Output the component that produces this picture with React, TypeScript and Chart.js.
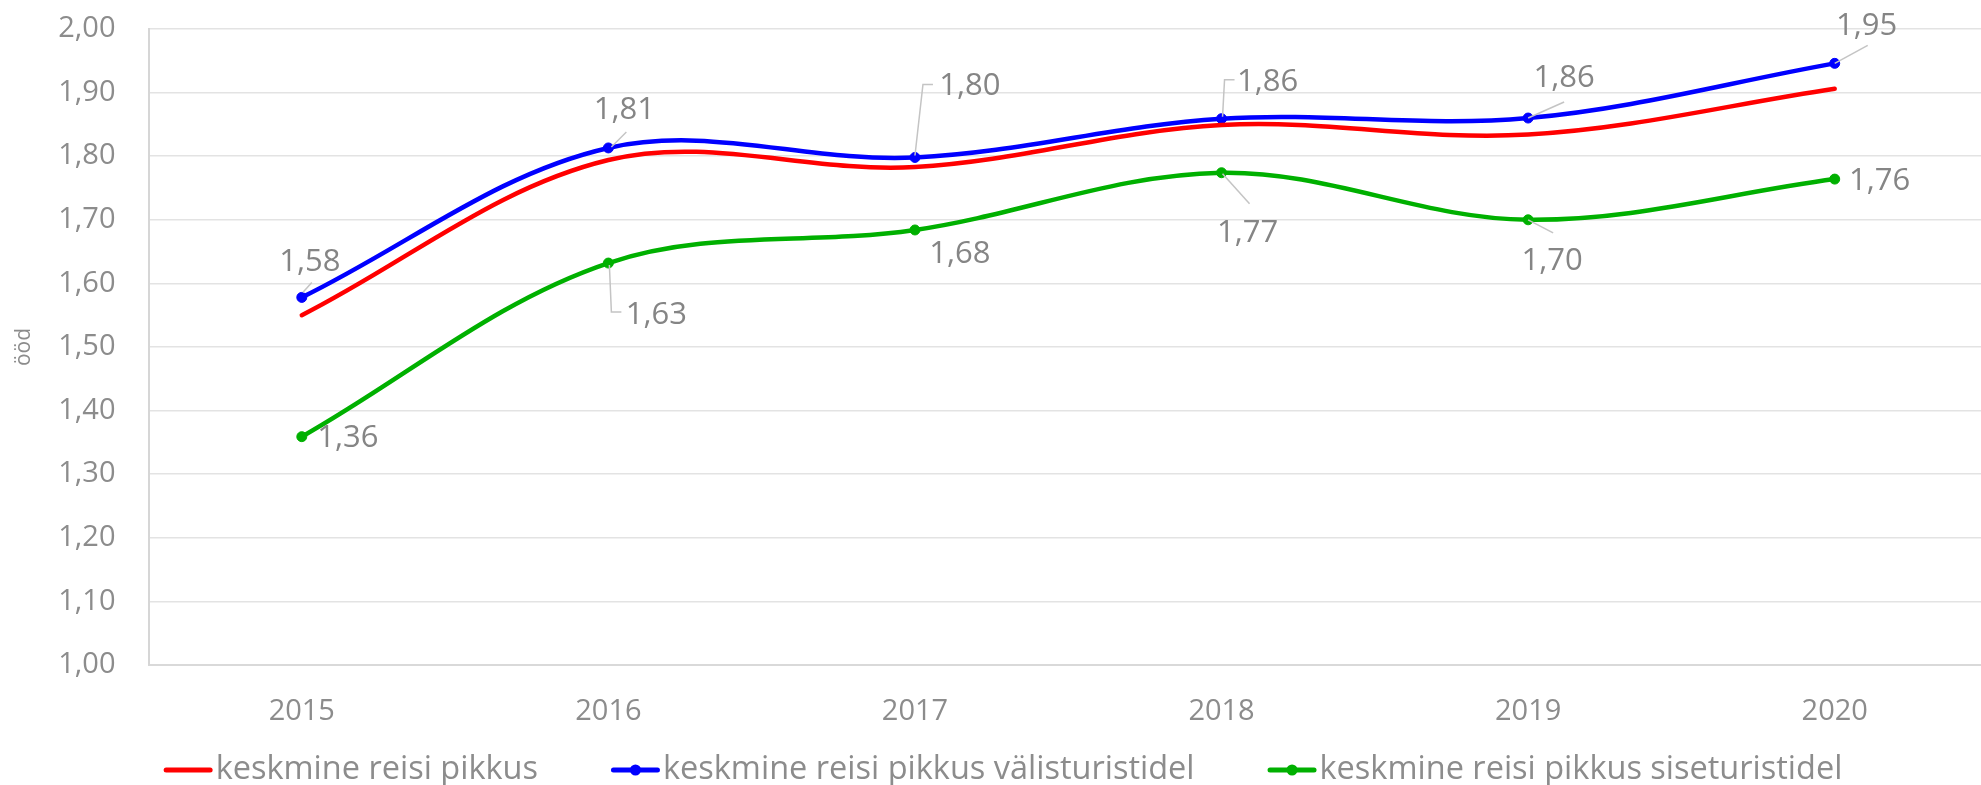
import React, { useEffect, useRef } from "react";
import { Chart, registerables } from "chart.js";

Chart.register(...registerables);

// ---------- data ----------
const categories = ["2015", "2016", "2017", "2018", "2019", "2020"];
const seriesNames = [
  "keskmine reisi pikkus",
  "keskmine reisi pikkus välisturistidel",
  "keskmine reisi pikkus siseturistidel",
];
const avgValues = [1.55, 1.794, 1.783, 1.849, 1.834, 1.906];
const foreignValues = [1.578, 1.813, 1.798, 1.859, 1.86, 1.946];
const domesticValues = [1.359, 1.632, 1.684, 1.774, 1.7, 1.764];
const yMin = 1.0;
const yMax = 2.0;
const yStep = 0.1;
const yAxisTitle = "ööd";

// ---------- style ----------
const FONT = "'Open Sans', 'Noto Sans', sans-serif";
const TEXT = "#8c8c8c";
const LABEL_TEXT = "#858585";
const fmt = (v: number) => v.toFixed(2).replace(".", ",");

// label placement (text centre offset + leader path relative to the point)
const labelPlacements: Record<number, any[]> = {
  1: [
    { dx: 8, dy: -35, leader: [[1, -5], [10, -15]] },
    { dx: 16, dy: -38, leader: [[3, -1], [18, -16]] },
    { dx: 55, dy: -71, leader: [[0, -2], [8, -73], [18, -73]] },
    { dx: 46, dy: -37, leader: [[1, -2], [3, -39], [13, -39]] },
    { dx: 36, dy: -40, leader: [[0, 0], [36, -16]] },
    { dx: 32, dy: -37, leader: [[0, 0], [33, -18]] },
  ],
  2: [
    { dx: 46, dy: 1 },
    { dx: 48, dy: 52, leader: [[1, 2], [3, 49], [13, 49]] },
    { dx: 45, dy: 24 },
    { dx: 26, dy: 60, leader: [[1, 1], [28, 31]] },
    { dx: 24, dy: 41, leader: [[0, 0], [25, 13]] },
    { dx: 45, dy: 2 },
  ],
};

const leaderLabelPlugin = {
  id: "leaderLabels",
  afterDatasetsDraw(chart: any, _args: any, opts: any) {
    const ctx = chart.ctx as CanvasRenderingContext2D;
    ctx.save();
    const placements = opts.placements as Record<number, any[]>;
    Object.keys(placements).forEach((k) => {
      const di = Number(k);
      const meta = chart.getDatasetMeta(di);
      const data = chart.data.datasets[di].data as number[];
      placements[di].forEach((p, i) => {
        const el = meta.data[i];
        if (!el) return;
        const x = el.x;
        const y = el.y;
        if (p.leader) {
          ctx.beginPath();
          ctx.strokeStyle = opts.leaderColor;
          ctx.lineWidth = 1.5;
          p.leader.forEach((pt: number[], j: number) => {
            if (j === 0) ctx.moveTo(x + pt[0], y + pt[1]);
            else ctx.lineTo(x + pt[0], y + pt[1]);
          });
          ctx.stroke();
        }
        ctx.font = `${opts.fontSize}px ${FONT}`;
        ctx.fillStyle = opts.color;
        ctx.textAlign = "center";
        ctx.textBaseline = "middle";
        ctx.fillText(fmt(data[i]), x + p.dx, y + p.dy);
      });
    });
    ctx.restore();
  },
};

const customLegendPlugin = {
  id: "customLegend",
  afterDraw(chart: any, _args: any, opts: any) {
    const ctx = chart.ctx as CanvasRenderingContext2D;
    ctx.save();
    ctx.font = `${opts.fontSize}px ${FONT}`;
    const items = chart.data.datasets.map((ds: any) => ({
      text: ds.label,
      color: ds.borderColor,
      marker: ds.pointRadius > 0,
    }));
    const widths = items.map(
      (it: any) => opts.symbolWidth + opts.symbolGap + ctx.measureText(it.text).width
    );
    const total =
      widths.reduce((a: number, b: number) => a + b, 0) + opts.itemGap * (items.length - 1);
    let x = opts.centerX - total / 2;
    const y = opts.y;
    items.forEach((it: any, i: number) => {
      ctx.strokeStyle = it.color;
      ctx.lineWidth = 5;
      ctx.lineCap = "round";
      ctx.beginPath();
      ctx.moveTo(x + 2.5, y);
      ctx.lineTo(x + opts.symbolWidth - 2.5, y);
      ctx.stroke();
      if (it.marker) {
        ctx.fillStyle = it.color;
        ctx.beginPath();
        ctx.arc(x + opts.symbolWidth / 2, y, 5.5, 0, Math.PI * 2);
        ctx.fill();
      }
      ctx.fillStyle = TEXT;
      ctx.textAlign = "left";
      ctx.textBaseline = "middle";
      ctx.fillText(it.text, x + opts.symbolWidth + opts.symbolGap, y);
      x += widths[i] + opts.itemGap;
    });
    ctx.restore();
  },
};

export default function App() {
  const canvasRef = useRef<HTMLCanvasElement | null>(null);

  useEffect(() => {
    if (!canvasRef.current) return;
    const chart = new Chart(canvasRef.current, {
      type: "line",
      data: {
        labels: categories,
        datasets: [
          {
            label: seriesNames[0],
            data: avgValues,
            borderColor: "#ff0000",
            backgroundColor: "#ff0000",
            borderWidth: 4.5,
            pointRadius: 0,
            tension: 0.35,
            borderCapStyle: "round",
          },
          {
            label: seriesNames[1],
            data: foreignValues,
            borderColor: "#0000ff",
            backgroundColor: "#0000ff",
            borderWidth: 4.5,
            pointRadius: 5,
            pointBorderWidth: 1,
            pointBackgroundColor: "#0000ff",
            pointBorderColor: "#0000ff",
            tension: 0.35,
          },
          {
            label: seriesNames[2],
            data: domesticValues,
            borderColor: "#00b000",
            backgroundColor: "#00b000",
            borderWidth: 4.5,
            pointRadius: 5,
            pointBorderWidth: 1,
            pointBackgroundColor: "#00b000",
            pointBorderColor: "#00b000",
            tension: 0.35,
          },
        ],
      },
      options: {
        responsive: false,
        animation: false,
        devicePixelRatio: 1,
        layout: { padding: { top: 29, right: 0, bottom: 45, left: 0 } },
        plugins: {
          legend: { display: false },
          tooltip: { enabled: false },
          leaderLabels: {
            placements: labelPlacements,
            fontSize: 31,
            color: LABEL_TEXT,
            leaderColor: "#c4c4c4",
          },
          customLegend: {
            fontSize: 32.5,
            symbolWidth: 49,
            symbolGap: 3,
            itemGap: 73,
            centerX: 1003,
            y: 770,
          },
        } as any,
        scales: {
          x: {
            type: "category",
            offset: true,
            grid: { display: false, drawTicks: false },
            border: { display: true, color: "#d9d9d9", width: 2 },
            ticks: {
              color: TEXT,
              font: { family: FONT, size: 29 },
              padding: 29,
              maxRotation: 0,
            },
            afterFit: (s: any) => {
              s.height = 75;
              s.paddingLeft = 0;
              s.paddingRight = 0;
            },
          },
          y: {
            min: yMin,
            max: yMax,
            ticks: {
              stepSize: yStep,
              color: TEXT,
              font: { family: FONT, size: 29 },
              padding: 33,
              callback: (v: any) => fmt(Number(v)),
            },
            grid: { color: "#e3e3e3", lineWidth: 1.5, drawTicks: false },
            border: { display: true, color: "#d6d6d6", width: 2 },
            title: {
              display: true,
              text: yAxisTitle,
              color: TEXT,
              font: { family: FONT, size: 21 },
              padding: { top: 11, bottom: 0 },
            },
            afterFit: (s: any) => {
              s.width = 148.5;
              s.paddingTop = 0;
              s.paddingBottom = 0;
            },
          },
        },
      },
      plugins: [leaderLabelPlugin, customLegendPlugin],
    } as any);
    return () => chart.destroy();
  }, []);

  return (
    <div
      style={{
        position: "absolute",
        left: 0,
        top: 0,
        width: 1981,
        height: 785,
        overflow: "hidden",
        background: "#ffffff",
      }}
    >
      <canvas
        ref={canvasRef}
        width={1994}
        height={785}
        style={{ display: "block", width: 1994, height: 785 }}
      />
    </div>
  );
}
